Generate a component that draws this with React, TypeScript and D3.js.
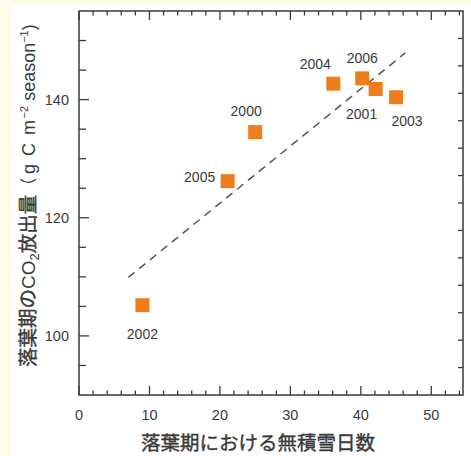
import React from "react";
import * as d3 from "d3";

const years = ["2000", "2001", "2002", "2003", "2004", "2005", "2006"];
const snowFreeDays = [25.0, 42.1, 9.0, 45.0, 36.1, 21.1, 40.2];
const co2Release = [134.5, 141.8, 105.2, 140.4, 142.7, 126.2, 143.6];
const fitX = [7.0, 46.3];
const fitY = [109.9, 147.9];
const xTickLabels = [0, 10, 20, 30, 40, 50];
const yTickLabels = [100, 120, 140];

// label placement relative to point (px)
const labelOffset: Record<string, [number, number]> = {
  "2000": [-9, -21],
  "2001": [-14, 25],
  "2002": [0, 29],
  "2003": [11, 24],
  "2004": [-18, -20],
  "2005": [-28, -4],
  "2006": [0, -20],
};

const W = 471;
const H = 456;
const L = 79, R = 463, T = 11, B = 395;

export default function App() {
  const x = d3.scaleLinear().domain([0, 54.5]).range([L, R]);
  const y = d3.scaleLinear().domain([90, 155]).range([B, T]);
  const yRight = d3.scaleLinear().domain([0, 14]).range([B, T]);

  const xMinor = d3.range(0, 54.5, 2);
  const yMinor = d3.range(95, 155, 5);
  const rightTicks = d3.range(1, 14, 1);

  const axisColor = "#3a3a3a";
  const textColor = "#3a3a3a";
  const orange = "#f07d1c";
  const sq = 14;
  const latin = "'Liberation Sans', Arial, sans-serif";
  const cjk = "'Noto Sans CJK JP', sans-serif";

  const line = d3
    .line<number>()
    .x((_, i) => x(fitX[i]))
    .y((_, i) => y(fitY[i]));

  return (
    <svg
      width={W}
      height={H}
      style={{ position: "absolute", left: 0, top: 0 }}
      fontFamily={latin}
    >
      <rect x={0} y={0} width={W} height={H} fill="#fdfcea" />
      <rect x={12} y={6} width={W - 12} height={H - 6} fill="#ffffff" />

      {xMinor.map((v) => {
        const major = v % 10 === 0;
        const len = major ? 9 : 4.5;
        return (
          <g key={"xt" + v} stroke={axisColor} strokeWidth={1.3}>
            <line x1={x(v)} x2={x(v)} y1={B} y2={B - len} />
            <line x1={x(v)} x2={x(v)} y1={T} y2={T + len} />
          </g>
        );
      })}
      {yMinor.map((v) => {
        const major = yTickLabels.includes(v);
        const len = major ? 10 : 7;
        return (
          <line
            key={"yt" + v}
            x1={L}
            x2={L + len}
            y1={y(v)}
            y2={y(v)}
            stroke={axisColor}
            strokeWidth={1.3}
          />
        );
      })}
      {rightTicks.map((v) => (
        <line
          key={"rt" + v}
          x1={R}
          x2={R - 5}
          y1={yRight(v)}
          y2={yRight(v)}
          stroke={axisColor}
          strokeWidth={1.3}
        />
      ))}
      <rect
        x={L}
        y={T}
        width={R - L}
        height={B - T}
        fill="none"
        stroke={axisColor}
        strokeWidth={1.5}
      />

      {xTickLabels.map((v) => (
        <text
          key={"xl" + v}
          x={x(v)}
          y={420}
          textAnchor="middle"
          fontSize={14.5}
          fill={textColor}
        >
          {v}
        </text>
      ))}
      {yTickLabels.map((v) => (
        <text
          key={"yl" + v}
          x={69}
          y={y(v) + 5}
          textAnchor="end"
          fontSize={14.5}
          fill={textColor}
        >
          {v}
        </text>
      ))}

      <path
        d={line(fitX) || ""}
        fill="none"
        stroke="#555"
        strokeWidth={1.5}
        strokeDasharray="8 6"
      />

      {years.map((yr, i) => (
        <rect
          key={"p" + yr}
          x={x(snowFreeDays[i]) - sq / 2}
          y={y(co2Release[i]) - sq / 2}
          width={sq}
          height={sq}
          fill={orange}
        />
      ))}
      {years.map((yr, i) => {
        const [dx, dy] = labelOffset[yr];
        return (
          <text
            key={"l" + yr}
            x={x(snowFreeDays[i]) + dx}
            y={y(co2Release[i]) + dy + 5}
            textAnchor="middle"
            fontSize={14}
            fill={textColor}
          >
            {yr}
          </text>
        );
      })}

      <text
        x={258}
        y={450}
        textAnchor="middle"
        fontSize={19.5}
        fill={textColor}
        stroke={textColor}
        strokeWidth={0.4}
        fontFamily={cjk}
      >
        落葉期における無積雪日数
      </text>

      <text
        transform="translate(35,367) rotate(-90)"
        fill={textColor}
        fontSize={19.5}
        fontFamily={cjk}
      >
        <tspan stroke={textColor} strokeWidth={0.4}>落葉期の</tspan>
        <tspan fontFamily="'Liberation Sans Narrow', 'Liberation Sans', sans-serif" fontSize={19}>CO</tspan>
        <tspan fontFamily="'Liberation Sans Narrow', 'Liberation Sans', sans-serif" fontSize={13} dy={4}>2</tspan>
        <tspan dy={-4} stroke={textColor} strokeWidth={0.4}>放出量</tspan>
        <tspan fontSize={17}>（ </tspan>
        <tspan fontFamily={latin} fontSize={18} letterSpacing={1.5}>g C m</tspan>
        <tspan fontFamily={latin} fontSize={11} dy={-7}>−2</tspan>
        <tspan fontFamily={latin} fontSize={18} dy={7}> season</tspan>
        <tspan fontFamily={latin} fontSize={11} dy={-7}>−1</tspan>
        <tspan fontFamily={latin} fontSize={18} dy={7}>)</tspan>
      </text>
    </svg>
  );
}
